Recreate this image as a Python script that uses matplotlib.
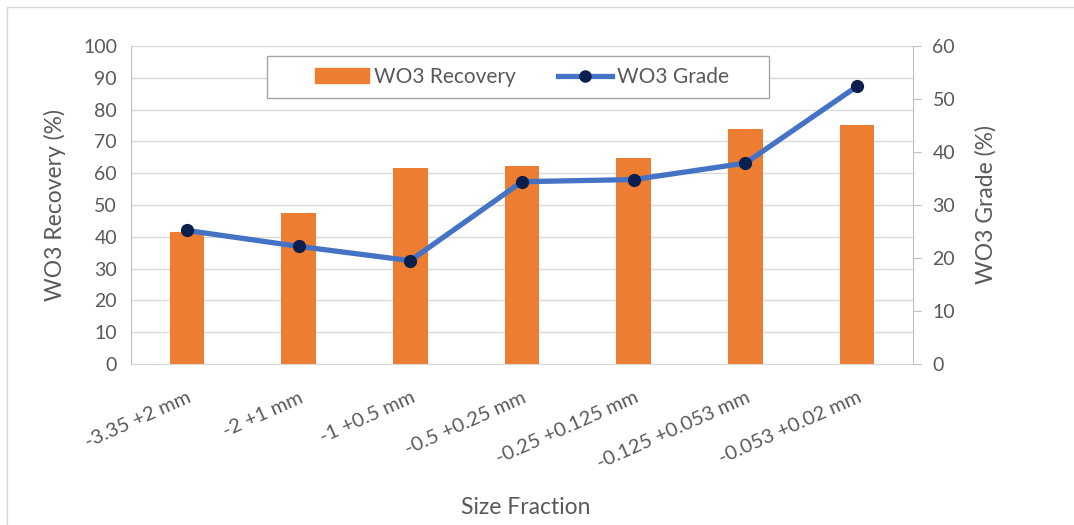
import matplotlib.pyplot as plt
from matplotlib.lines import Line2D
from matplotlib.patches import Patch, Rectangle

# data
fractions = ['-3.35 +2 mm', '-2 +1 mm', '-1 +0.5 mm', '-0.5 +0.25 mm',
             '-0.25 +0.125 mm', '-0.125 +0.053 mm', '-0.053 +0.02 mm']
recovery = [41.5, 47.5, 61.7, 62.3, 64.8, 73.9, 75.2]   # WO3 Recovery (%)
grade = [25.2, 22.2, 19.5, 34.4, 34.8, 37.9, 52.4]      # WO3 Grade (%)

orange = '#ED7D31'
blue = '#4472C4'
navy = '#0B1F4F'
txt = '#595959'
axis_gray = '#BFBFBF'
grid_gray = '#D9D9D9'

plt.rcParams['font.family'] = ['Lato', 'DejaVu Sans']

fig = plt.figure(figsize=(10.74, 5.25), dpi=100)
ax = fig.add_axes([131/1074, 1 - 364/525, (913-131)/1074, (364-46)/525])

x = list(range(len(fractions)))
ax.bar(x, recovery, width=0.31, color=orange, zorder=2)
ax.set_xlim(-0.5, len(fractions) - 0.5)
ax.set_ylim(0, 100)
ax.set_yticks(range(0, 101, 10))
ax.grid(axis='y', color=grid_gray, lw=1, zorder=0)
ax.set_axisbelow(True)
ax.tick_params(axis='y', length=0, labelsize=14, labelcolor=txt, pad=10)
ax.tick_params(axis='x', length=0, labelsize=14.5, labelcolor=txt, pad=18)
ax.set_xticks(x)
ax.set_xticklabels(fractions, rotation=24, ha='right', va='top', rotation_mode='anchor')
ax.set_ylabel('WO3 Recovery (%)', fontsize=16.5, color=txt, labelpad=12)
ax.set_xlabel('Size Fraction', fontsize=16.5, color=txt)
ax.xaxis.set_label_coords(0.505, (364 - 508) / 318)
ax.xaxis.label.set_va('center')
for s in ['top', 'right']:
    ax.spines[s].set_visible(False)
ax.spines['left'].set_color(axis_gray)
ax.spines['bottom'].set_color(grid_gray)

ax2 = ax.twinx()
ax2.plot(x, grade, color=blue, lw=3.8, marker='o', markersize=8.5,
         markerfacecolor=navy, markeredgecolor=navy, zorder=3)
ax2.set_ylim(0, 60)
ax2.set_yticks(range(0, 61, 10))
ax2.tick_params(axis='y', length=6, color=axis_gray, labelsize=14, labelcolor=txt, pad=8)
ax2.set_ylabel('WO3 Grade (%)', fontsize=16.5, color=txt, labelpad=14)
for s in ['top', 'left', 'bottom']:
    ax2.spines[s].set_visible(False)
ax2.spines['right'].set_color(axis_gray)

# legend box (Excel draws it much wider than its content)
ax2.add_patch(Rectangle((267/1074, 1 - 98/525), (769-267)/1074, 42/525,
                        transform=fig.transFigure, facecolor='white',
                        edgecolor='#A6A6A6', lw=1, zorder=4, clip_on=False))
handles = [Patch(color=orange, label='WO3 Recovery'),
           Line2D([], [], color=blue, lw=3.8, marker='o', markersize=8,
                  markerfacecolor=navy, markeredgecolor=navy, label='WO3 Grade')]
leg = ax2.legend(handles=handles, ncol=2, loc='center',
                 bbox_to_anchor=(522/1074, 1 - 77/525), bbox_transform=fig.transFigure,
                 frameon=False, fontsize=15, handlelength=2.6, handletextpad=0.25,
                 columnspacing=2.0, labelcolor=txt)
leg.set_zorder(6)

# thin frame around the chart area
fig.add_artist(Line2D([7/1074, 1], [1 - 7/525, 1 - 7/525], color=grid_gray, lw=1))
fig.add_artist(Line2D([7/1074, 7/1074], [0, 1 - 7/525], color=grid_gray, lw=1))

fig.savefig('out.png', dpi=100)
